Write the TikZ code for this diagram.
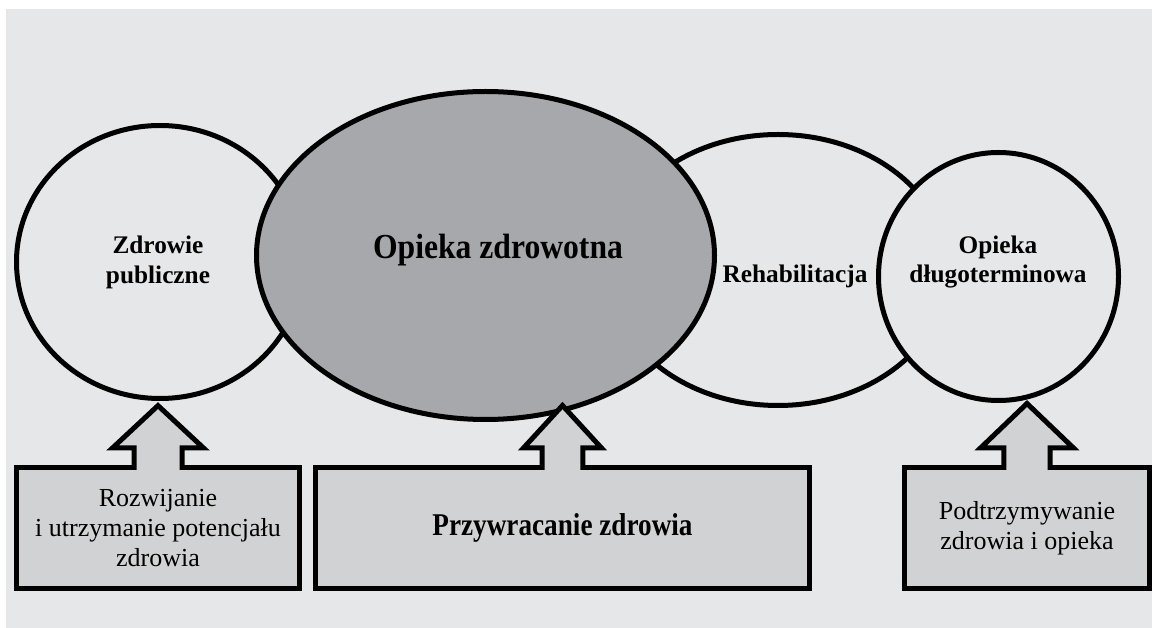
\documentclass[tikz,border=0pt]{standalone}
\usepackage{fontspec}
\setmainfont{Liberation Serif}
\newfontfamily\narrowserif[FakeStretch=0.9]{Liberation Serif}
\newfontfamily\tightserif[FakeStretch=0.86]{Liberation Serif}
\usetikzlibrary{calc}

\begin{document}
\begin{tikzpicture}[
    outline/.style={line width=0.125cm, line join=miter, draw=black},
    boxnode/.style={outline, fill=r209g210b212, minimum height=3.025cm, inner sep=0pt, outer sep=0pt,
                    align=center, font=\fontsize{18.5}{21}\selectfont},
    roundlabel/.style={align=center, font=\fontsize{18}{21.3}\selectfont\bfseries}
  ]
                    % Changing color 230 231 233
                    \definecolor{r230g231b233}{rgb}{0.901961,0.905882,0.913725}%
                    \definecolor{r167g168b171}{rgb}{0.654902,0.658824,0.670588}%
                    \definecolor{r209g210b212}{rgb}{0.819608,0.823529,0.831373}%

                    % Drawing background
                    \useasboundingbox (0.000000,0.000000) rectangle (28.800000,15.700000);%
                    \fill [r230g231b233] (0.150000,0.000000) rectangle (28.800000,15.475000);%

                    % Drawing ellipse Zdrowie publiczne
                    \filldraw [outline, fill=r230g231b233] (4.000000,9.150000) ellipse (3.587500 and 3.412500);%
                    \node [roundlabel] (zdrowie) at (3.950000,9.150000) {Zdrowie\\publiczne};%

                    % Drawing ellipse Rehabilitacja
                    \filldraw [outline, fill=r230g231b233] (19.450000,8.950000) ellipse (4.250000 and 3.387500);%
                    \node [roundlabel] (rehab) at (19.875000,8.800000) {Rehabilitacja};%

                    % Drawing ellipse Opieka zdrowotna
                    \filldraw [outline, fill=r167g168b171] (12.137500,9.312500) ellipse (5.725000 and 4.100000);%
                    \node [font=\narrowserif\fontsize{25}{30}\selectfont\bfseries] (opieka) at (12.450000,9.450000) {Opieka zdrowotna};%

                    % Drawing circle Opieka dlugoterminowa
                    \filldraw [outline, fill=r230g231b233] (24.962500,8.787500) ellipse (3.000000 and 3.100000);%
                    \node [roundlabel] (dlugo) at (24.950000,9.150000) {Opieka\\długoterminowa};%

                    % Drawing box Rozwijanie
                    \node [boxnode, minimum width=7.075cm] (rozwoj) at (3.950000,2.500000) {Rozwijanie\\i utrzymanie potencjału\\zdrowia};%

                    % Drawing box Przywracanie zdrowia
                    \node [boxnode, minimum width=12.350cm, font=\tightserif\fontsize{22.5}{27}\selectfont\bfseries] (przywr) at (14.062500,2.500000) {Przywracanie zdrowia};%

                    % Drawing box Podtrzymywanie
                    \node [boxnode, minimum width=6.125cm] (podtrz) at (25.675000,2.500000) {Podtrzymywanie\\zdrowia i opieka};%

                    % Marking tips of arrows
                    \coordinate (tipA) at (3.950000,5.560000);%
                    \coordinate (tipB) at (14.062500,5.562500);%
                    \coordinate (tipC) at (25.675000,5.612500);%

                    % Drawing arrow rozwoj tipA
                    \fill [r209g210b212] ($(rozwoj.north)+(-0.60,-0.10)$) -- ($(rozwoj.north)+(-0.60,0.4875)$) -- ($(rozwoj.north)+(-1.1375,0.4875)$) -- (tipA)
                          -- ($(rozwoj.north)+(1.1375,0.4875)$) -- ($(rozwoj.north)+(0.60,0.4875)$) -- ($(rozwoj.north)+(0.60,-0.10)$) -- cycle;%
                    \draw [outline] ($(rozwoj.north)+(-0.60,-0.0625)$) -- ($(rozwoj.north)+(-0.60,0.4875)$) -- ($(rozwoj.north)+(-1.1375,0.4875)$) -- (tipA)
                          -- ($(rozwoj.north)+(1.1375,0.4875)$) -- ($(rozwoj.north)+(0.60,0.4875)$) -- ($(rozwoj.north)+(0.60,-0.0625)$);%

                    % Drawing arrow przywr tipB
                    \fill [r209g210b212] ($(przywr.north)+(-0.51,-0.10)$) -- ($(przywr.north)+(-0.51,0.4875)$) -- ($(przywr.north)+(-0.975,0.4875)$) -- (tipB)
                          -- ($(przywr.north)+(0.975,0.4875)$) -- ($(przywr.north)+(0.51,0.4875)$) -- ($(przywr.north)+(0.51,-0.10)$) -- cycle;%
                    \draw [outline] ($(przywr.north)+(-0.51,-0.0625)$) -- ($(przywr.north)+(-0.51,0.4875)$) -- ($(przywr.north)+(-0.975,0.4875)$) -- (tipB)
                          -- ($(przywr.north)+(0.975,0.4875)$) -- ($(przywr.north)+(0.51,0.4875)$) -- ($(przywr.north)+(0.51,-0.0625)$);%

                    % Drawing arrow podtrz tipC
                    \fill [r209g210b212] ($(podtrz.north)+(-0.58,-0.10)$) -- ($(podtrz.north)+(-0.58,0.4875)$) -- ($(podtrz.north)+(-1.1625,0.4875)$) -- (tipC)
                          -- ($(podtrz.north)+(1.1625,0.4875)$) -- ($(podtrz.north)+(0.58,0.4875)$) -- ($(podtrz.north)+(0.58,-0.10)$) -- cycle;%
                    \draw [outline] ($(podtrz.north)+(-0.58,-0.0625)$) -- ($(podtrz.north)+(-0.58,0.4875)$) -- ($(podtrz.north)+(-1.1625,0.4875)$) -- (tipC)
                          -- ($(podtrz.north)+(1.1625,0.4875)$) -- ($(podtrz.north)+(0.58,0.4875)$) -- ($(podtrz.north)+(0.58,-0.0625)$);%
\end{tikzpicture}
\end{document}
